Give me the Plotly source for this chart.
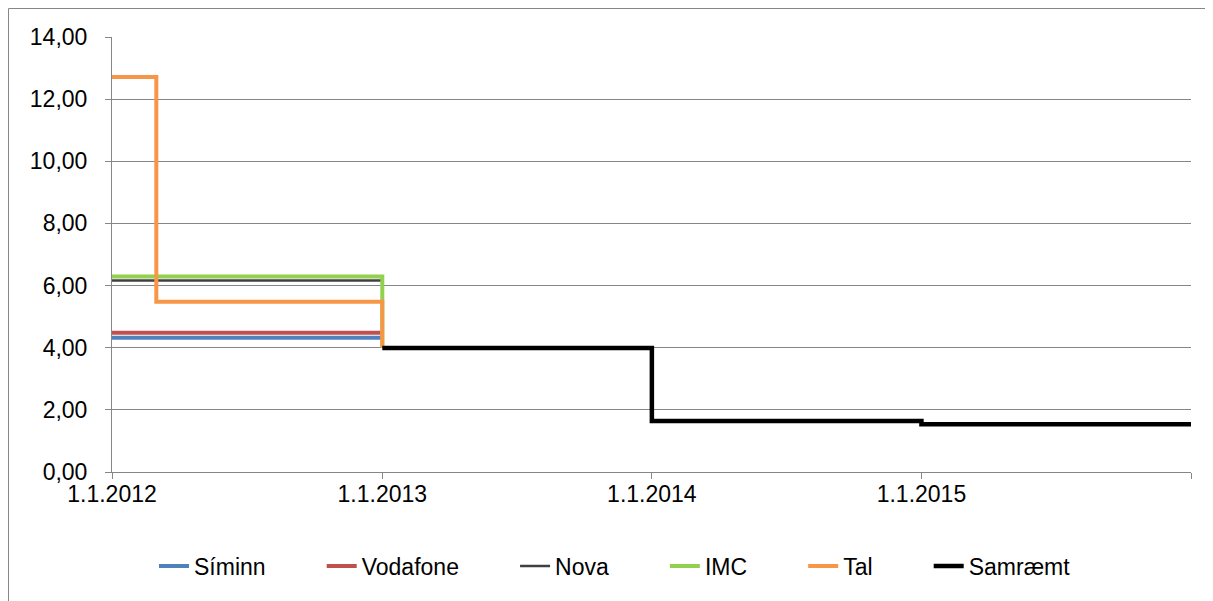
import plotly.graph_objects as go

# Data
series_names = ["Síminn", "Vodafone", "Nova", "IMC", "Tal", "Samræmt"]
colors = ["#4F81BD", "#C0504D", "#404040", "#92D050", "#F79646", "#000000"]
widths = [4, 4, 2.5, 4, 4, 4.5]

simin_x = ["2012-01-01", "2013-01-01"]
simin_y = [4.32, 4.32]
vodafone_x = ["2012-01-01", "2013-01-01"]
vodafone_y = [4.48, 4.48]
nova_x = ["2012-01-01", "2013-01-01"]
nova_y = [6.16, 6.16]
imc_x = ["2012-01-01", "2013-01-01", "2013-01-01"]
imc_y = [6.29, 6.29, 4.00]
tal_x = ["2012-01-01", "2012-03-01", "2013-01-01", "2013-01-01"]
tal_y = [12.71, 5.48, 5.48, 4.00]
samraemt_x = ["2013-01-01", "2014-01-01", "2015-01-01", "2016-01-01"]
samraemt_y = [3.99, 1.64, 1.54, 1.54]

xs = [simin_x, vodafone_x, nova_x, imc_x, tal_x, samraemt_x]
ys = [simin_y, vodafone_y, nova_y, imc_y, tal_y, samraemt_y]

tick_vals = ["2012-01-01", "2013-01-01", "2014-01-01", "2015-01-01", "2016-01-01"]
tick_text = ["1.1.2012", "1.1.2013", "1.1.2014", "1.1.2015", ""]
y_ticks = [0, 2, 4, 6, 8, 10, 12, 14]
y_tick_text = ["0,00", "2,00", "4,00", "6,00", "8,00", "10,00", "12,00", "14,00"]

fig = go.Figure()
n = len(series_names)
for i, (name, c, w, x, y) in enumerate(zip(series_names, colors, widths, xs, ys)):
    # trailing no-break spaces widen the gap between legend entries
    label = name if i == n - 1 else name + "\u00a0" * 8
    fig.add_trace(go.Scatter(x=x, y=y, name=label, mode="lines",
                             line=dict(color=c, width=w, shape="hv"),
                             hoverinfo="skip"))

# The page body adds an 8px offset; figure size/margins compensate for it.
W, H = 1205, 593
L, R, T, B = 104, 22, 29, 129
pw, ph = W - L - R, H - T - B

font = dict(family="Liberation Sans, Arial, sans-serif", size=23, color="#000000")
fig.update_layout(
    width=W, height=H,
    margin=dict(l=L, r=R, t=T, b=B),
    paper_bgcolor="white", plot_bgcolor="white",
    font=font,
    showlegend=True,
    legend=dict(orientation="h", x=(615 - 112) / pw, xanchor="center",
                y=-(566 - 472) / ph, yanchor="middle",
                font=font, itemwidth=30, traceorder="normal"),
    xaxis=dict(type="date", range=["2012-01-01", "2016-01-01"],
               tickmode="array", tickvals=tick_vals, ticktext=tick_text,
               showgrid=False, showline=True, linecolor="#868686", linewidth=1,
               ticks="outside", ticklen=6, tickcolor="#868686", zeroline=False,
               ticklabelstandoff=-5),
    yaxis=dict(range=[0, 14], tickmode="array", tickvals=y_ticks, ticktext=y_tick_text,
               showgrid=True, gridcolor="#868686", gridwidth=1,
               showline=True, linecolor="#868686", linewidth=1,
               ticks="outside", ticklen=6, tickcolor="#868686", zeroline=False,
               ticklabelstandoff=13),
    shapes=[dict(type="rect", xref="paper", yref="paper",
                 x0=-(L - 0.5) / pw, x1=1.1, y0=-0.5, y1=(ph + T - 0.5) / ph,
                 line=dict(color="#868686", width=1), fillcolor="rgba(0,0,0,0)",
                 layer="below")],
)
fig.write_html("out.html")
